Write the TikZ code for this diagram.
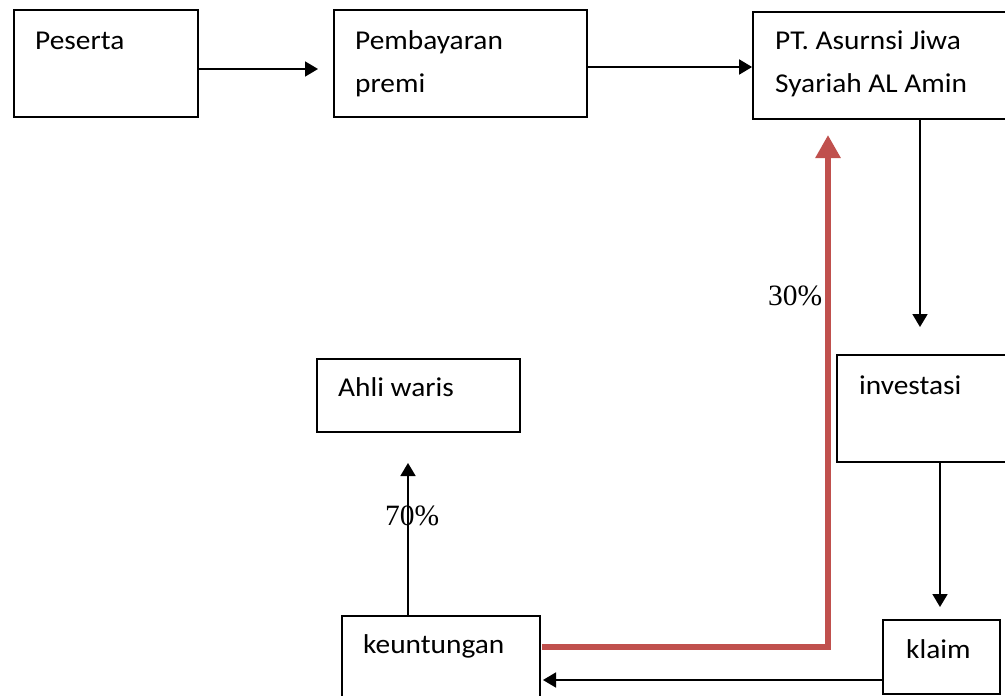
\documentclass[tikz,border=0pt]{standalone}
\usepackage{fontspec}
\setmainfont{Carlito}[FakeStretch=1.08]
\newfontfamily\tnr{Liberation Serif}
\usetikzlibrary{arrows.meta}
\definecolor{redline}{HTML}{C0504D}
\begin{document}
\begin{tikzpicture}[x=1pt,y=-1pt,
  box/.style={draw=black, line width=1.8pt, rectangle, inner sep=0pt, fill=white},
  lbl/.style={anchor=base west, inner sep=0pt, font=\fontsize{27.2}{30}\selectfont},
  pct/.style={anchor=base west, inner sep=0pt, font=\tnr\fontsize{29.5}{32}\selectfont},
  arr/.style={draw=black, line width=1.8pt, -{Triangle[length=13pt,width=15pt]}},
  redarr/.style={draw=redline, line width=6.5pt, miter limit=10, -{Triangle[length=23pt,width=24pt]}}]
\useasboundingbox (0,0) rectangle (1005,696);
\clip (0,0) rectangle (1005,696);
\fill[white] (0,0) rectangle (1005,696);
% boxes
\node[box, minimum width=184pt, minimum height=107pt] (peserta) at (106,63.5) {};
\node[box, minimum width=253pt, minimum height=107pt] (premi) at (460.5,63.5) {};
\node[box, minimum width=260pt, minimum height=107pt] (pt) at (883,65.5) {};
\node[box, minimum width=180pt, minimum height=107pt] (inv) at (927,408.5) {};
\node[box, minimum width=203pt, minimum height=73pt] (ahli) at (418.5,395.5) {};
\node[box, minimum width=198pt, minimum height=90pt] (keun) at (441,661) {};
\node[box, minimum width=117pt, minimum height=74pt] (klaim) at (941.5,657) {};
% texts
\node[lbl] (tpes) at (35,49) {Peserta};
\node[lbl] (tpem1) at (355,49) {Pembayaran};
\node[lbl] (tpem2) at (355,92) {premi};
\node[lbl] (tpt1) at (775,49) {PT. Asurnsi Jiwa};
\node[lbl] (tpt2) at (775,92) {Syariah AL Amin};
\node[lbl] (tinv) at (859,394) {investasi};
\node[lbl] (tahli) at (338,396) {Ahli waris};
\node[lbl] (tkeun) at (363,653) {keuntungan};
\node[lbl] (tklaim) at (906,658) {klaim};
% coordinates
\coordinate (c1) at (318,69);
\coordinate (c2) at (0,67);
\coordinate (c3) at (920,327);
\coordinate (c4) at (940,607);
\coordinate (c5) at (543,680);
\coordinate (c6) at (408,463);
\coordinate (r1) at (828,647);
\coordinate (c7) at (828,135);
% connectors
\draw[arr] (peserta.east |- c1) -- (c1);
\draw[arr] (premi.east |- c2) -- (pt.west |- c2);
\draw[arr] (pt.south -| c3) -- (c3);
\draw[arr] (inv.south -| c4) -- (c4);
\draw[arr] (klaim.west |- c5) -- (c5);
\draw[arr] (keun.north -| c6) -- (c6);
\draw[redarr] ([xshift=1pt]keun.east |- r1) -- (r1) -- (c7);
% percentages
\node[pct] (p30) at (768,305) {30\%};
\node[pct] (p70) at (385,525) {70\%};
\end{tikzpicture}
\end{document}
